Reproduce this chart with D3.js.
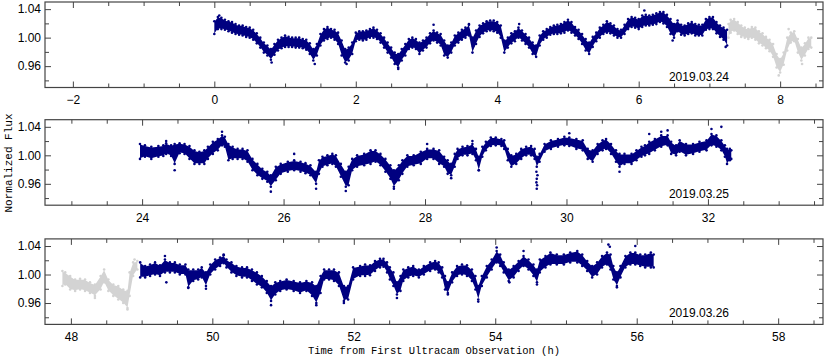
<!DOCTYPE html>
<html><head><meta charset="utf-8">
<script src="https://cdn.jsdelivr.net/npm/d3@7/dist/d3.min.js"></script>
<style>
body{margin:0;background:#fff;}
svg{display:block;}
.tick text{font-family:"Liberation Sans",Arial,sans-serif;font-size:12px;fill:#000;}
</style></head><body>
<svg id="chart" width="830" height="356"></svg>
<script>
// ---- data: [time (h), lower envelope, upper envelope] ----
const night1Obs = [
[0.00,1.005,1.023],[0.05,1.012,1.029],[0.10,1.012,1.028],[0.15,1.011,1.025],[0.20,1.009,1.023],
[0.25,1.007,1.022],[0.30,1.005,1.019],[0.35,1.004,1.017],[0.40,1.003,1.017],[0.45,1.001,1.015],
[0.50,1.000,1.014],[0.55,0.997,1.011],[0.60,0.992,1.006],[0.65,0.986,1.000],[0.70,0.979,0.993],
[0.75,0.975,0.989],[0.80,0.969,0.984],[0.85,0.976,0.991],[0.90,0.982,0.997],[0.95,0.985,1.000],
[1.00,0.987,1.003],[1.05,0.987,1.001],[1.10,0.987,1.000],[1.15,0.986,1.000],[1.20,0.986,1.000],
[1.25,0.985,0.998],[1.30,0.983,0.997],[1.35,0.977,0.992],[1.40,0.968,0.984],[1.45,0.975,0.991],
[1.50,0.989,1.005],[1.55,0.996,1.012],[1.60,0.998,1.015],[1.65,1.000,1.012],[1.70,0.997,1.011],
[1.75,0.991,1.007],[1.80,0.975,0.996],[1.85,0.965,0.984],[1.90,0.968,0.986],[1.95,0.977,0.993],
[2.00,0.995,1.007],[2.05,0.997,1.009],[2.10,0.996,1.009],[2.15,0.997,1.010],[2.20,1.000,1.012],
[2.25,1.000,1.014],[2.30,0.998,1.011],[2.35,0.993,1.006],[2.40,0.986,1.000],[2.45,0.979,0.993],
[2.50,0.972,0.986],[2.55,0.963,0.979],[2.60,0.958,0.977],[2.65,0.968,0.984],[2.70,0.975,0.991],
[2.75,0.984,0.998],[2.80,0.986,1.000],[2.85,0.984,0.998],[2.90,0.977,0.993],[2.95,0.982,0.996],
[3.00,0.986,1.000],[3.05,0.992,1.006],[3.10,0.996,1.010],[3.15,0.993,1.007],[3.20,0.989,1.005],
[3.25,0.975,0.996],[3.30,0.972,0.989],[3.35,0.979,0.993],[3.40,0.989,1.003],[3.45,0.993,1.007],
[3.50,0.997,1.011],[3.55,1.000,1.014],[3.60,1.003,1.018],[3.65,0.979,1.000],[3.70,0.991,1.010],
[3.75,1.001,1.017],[3.80,1.006,1.020],[3.85,1.009,1.023],[3.90,1.010,1.024],[3.95,1.009,1.024],
[4.00,1.007,1.022],[4.05,1.000,1.017],[4.10,0.979,0.996],[4.15,0.986,1.000],[4.20,0.992,1.006],
[4.25,0.995,1.009],[4.30,1.000,1.014],[4.35,0.996,1.010],[4.40,0.991,1.005],[4.45,0.986,1.000],
[4.50,0.977,0.993],[4.55,0.973,0.989],[4.60,0.989,1.003],[4.65,0.997,1.009],[4.70,1.000,1.012],
[4.75,1.004,1.015],[4.80,1.005,1.017],[4.85,1.005,1.018],[4.90,1.006,1.019],[4.95,1.007,1.022],
[5.00,1.010,1.025],[5.05,1.007,1.022],[5.10,1.003,1.015],[5.15,0.998,1.011],[5.20,0.991,1.005],
[5.25,0.982,0.998],[5.30,0.977,0.993],[5.35,0.987,1.001],[5.40,0.995,1.007],[5.45,1.000,1.014],
[5.50,1.005,1.018],[5.55,1.007,1.023],[5.60,1.006,1.020],[5.65,1.003,1.017],[5.70,1.000,1.012],
[5.75,1.000,1.011],[5.80,1.005,1.018],[5.85,1.012,1.026],[5.90,1.015,1.029],[5.95,1.014,1.028],
[6.00,1.012,1.026],[6.05,1.015,1.031],[6.10,1.017,1.032],[6.15,1.017,1.031],[6.20,1.018,1.032],
[6.25,1.019,1.034],[6.30,1.022,1.036],[6.35,1.020,1.036],[6.40,1.015,1.032],[6.45,1.005,1.026],
[6.50,1.000,1.019],[6.55,1.009,1.024],[6.60,1.004,1.018],[6.65,1.003,1.017],[6.70,1.005,1.020],
[6.75,1.006,1.022],[6.80,1.003,1.019],[6.85,1.003,1.018],[6.90,1.003,1.018],[6.95,1.011,1.026],
[7.00,1.012,1.029],[7.05,1.012,1.029],[7.10,1.006,1.022],[7.15,1.001,1.017],[7.20,0.997,1.014],
[7.25,0.989,1.011]
];
const night1Extra = [
[7.27,1.000,1.019],[7.30,1.007,1.025],[7.35,1.010,1.026],[7.40,1.005,1.022],[7.45,1.001,1.017],
[7.50,1.000,1.014],[7.55,0.998,1.012],[7.60,1.000,1.015],[7.65,0.997,1.014],[7.70,0.992,1.009],
[7.75,0.989,1.006],[7.80,0.985,1.001],[7.85,0.981,0.997],[7.90,0.973,0.991],[7.95,0.958,0.977],
[8.00,0.951,0.970],[8.05,0.962,0.979],[8.10,0.982,1.000],[8.15,0.993,1.007],[8.20,0.995,1.009],
[8.25,0.979,0.998],[8.30,0.968,0.986],[8.35,0.975,0.992],[8.40,0.984,1.000],[8.44,0.986,1.000]
];
const night1Stray = [[0.07,1.031],[0.81,0.965],[1.42,0.963],[1.87,0.963],[2.60,0.956],[3.10,1.018],
[3.60,1.019],[4.31,1.019],[6.08,1.038],[6.48,0.996],[7.23,0.987],[3.66,0.988],[4.53,0.980]];
const night1ExtraStray = [[7.98,0.947],[8.12,1.012],[8.31,0.963]];

const night2Obs = [
[23.97,0.995,1.016],[24.04,0.998,1.014],[24.13,0.995,1.012],[24.23,0.998,1.013],[24.30,0.999,1.014],
[24.34,1.002,1.017],[24.41,0.999,1.014],[24.46,0.988,1.016],[24.53,1.003,1.017],[24.60,1.002,1.016],
[24.67,0.995,1.013],[24.74,0.988,1.007],[24.81,0.988,1.005],[24.88,0.988,1.007],[24.93,0.995,1.012],
[25.00,1.002,1.019],[25.07,1.007,1.023],[25.13,1.014,1.028],[25.17,1.012,1.026],[25.22,0.993,1.016],
[25.28,0.995,1.012],[25.35,0.995,1.009],[25.42,0.995,1.009],[25.49,0.991,1.007],[25.56,0.979,0.995],
[25.63,0.972,0.988],[25.70,0.967,0.981],[25.77,0.963,0.977],[25.82,0.956,0.972],[25.89,0.965,0.984],
[25.96,0.974,0.988],[26.06,0.977,0.991],[26.15,0.979,0.993],[26.24,0.977,0.991],[26.31,0.975,0.989],
[26.38,0.972,0.986],[26.46,0.960,0.977],[26.50,0.974,0.993],[26.55,0.984,0.998],[26.62,0.986,1.000],
[26.69,0.988,1.002],[26.74,0.984,1.000],[26.81,0.970,0.988],[26.88,0.956,0.977],[26.92,0.958,0.984],
[26.97,0.979,0.995],[27.04,0.984,1.000],[27.14,0.986,1.002],[27.23,0.988,1.007],[27.30,0.991,1.007],
[27.37,0.986,1.002],[27.44,0.977,0.995],[27.51,0.967,0.986],[27.56,0.956,0.979],[27.63,0.965,0.986],
[27.68,0.974,0.993],[27.75,0.984,1.000],[27.84,0.986,1.000],[27.94,0.988,1.005],[28.03,0.995,1.009],
[28.12,0.995,1.009],[28.20,0.988,1.007],[28.27,0.984,0.998],[28.32,0.974,0.993],[28.37,0.972,0.988],
[28.42,0.984,1.002],[28.46,0.995,1.009],[28.53,1.000,1.012],[28.60,1.000,1.013],[28.67,1.002,1.016],
[28.72,0.993,1.009],[28.76,0.979,0.998],[28.81,0.998,1.012],[28.86,1.007,1.019],[28.93,1.013,1.025],
[29.00,1.014,1.025],[29.08,1.013,1.023],[29.12,1.009,1.021],[29.17,0.993,1.009],[29.22,0.984,1.000],
[29.29,0.988,1.002],[29.36,0.995,1.009],[29.43,1.000,1.012],[29.50,1.000,1.013],[29.55,0.995,1.009],
[29.58,0.984,0.998],[29.62,0.991,1.002],[29.69,1.005,1.016],[29.78,1.009,1.021],[29.88,1.012,1.023],
[29.97,1.014,1.026],[30.04,1.013,1.025],[30.14,1.009,1.023],[30.23,1.007,1.021],[30.30,0.995,1.009],
[30.37,0.991,1.007],[30.44,1.002,1.016],[30.51,1.007,1.021],[30.56,1.009,1.023],[30.63,1.002,1.016],
[30.70,0.991,1.007],[30.75,0.984,1.002],[30.82,0.988,1.002],[30.92,0.988,1.002],[30.99,0.993,1.007],
[31.06,0.998,1.012],[31.11,1.000,1.014],[31.17,1.002,1.019],[31.25,1.007,1.023],[31.34,1.012,1.028],
[31.43,1.014,1.028],[31.48,1.002,1.019],[31.55,1.000,1.014],[31.60,1.005,1.021],[31.69,1.000,1.016],
[31.79,1.002,1.016],[31.88,1.005,1.019],[31.98,1.007,1.021],[32.05,1.014,1.030],[32.12,1.012,1.028],
[32.19,1.007,1.021],[32.24,0.998,1.014],[32.27,0.988,1.009],[32.31,0.993,1.009],[32.33,0.995,1.007]
];
const night2Stray = [[24.34,1.020],[24.46,0.979],[25.13,1.033],[25.82,0.949],[26.46,0.953],[26.88,0.950],
[27.56,0.953],[28.03,1.016],[28.37,0.968],[28.67,1.020],[28.76,0.979],[29.58,0.953],[29.585,0.958],
[29.575,0.962],[29.58,0.967],[29.59,0.972],[29.575,0.977],[30.04,1.031],[30.75,0.977],[31.17,1.030],
[31.34,1.033],[31.43,1.035],[32.05,1.037],[32.19,1.040],[24.13,1.004],[26.15,1.002]];

const night3Extra = [
[47.88,0.984,1.005],[47.92,0.986,1.003],[47.99,0.979,0.998],[48.06,0.977,0.993],[48.13,0.979,0.994],
[48.20,0.977,0.993],[48.27,0.974,0.989],[48.34,0.970,0.986],[48.42,0.979,0.998],[48.47,0.989,1.007],
[48.53,0.977,0.993],[48.60,0.970,0.986],[48.67,0.965,0.984],[48.74,0.960,0.979],[48.80,0.953,0.977],
[48.83,0.970,1.003],[48.88,0.998,1.017],[48.94,1.007,1.019]
];
const night3Obs = [
[48.98,0.996,1.017],[49.05,0.996,1.012],[49.12,0.998,1.014],[49.19,1.000,1.017],[49.26,0.998,1.013],
[49.33,1.003,1.021],[49.40,1.003,1.017],[49.47,1.003,1.017],[49.54,1.000,1.014],[49.62,1.000,1.014],
[49.66,0.982,1.007],[49.73,0.991,1.007],[49.80,0.993,1.007],[49.85,0.996,1.010],[49.91,0.984,1.003],
[49.97,1.000,1.014],[50.04,1.007,1.021],[50.11,1.012,1.024],[50.16,1.016,1.027],[50.20,1.010,1.021],
[50.27,1.003,1.017],[50.34,0.998,1.012],[50.42,0.996,1.010],[50.49,0.996,1.010],[50.56,0.991,1.007],
[50.63,0.986,1.003],[50.70,0.982,0.998],[50.77,0.974,0.991],[50.83,0.963,0.984],[50.89,0.972,0.989],
[50.96,0.977,0.991],[51.05,0.979,0.993],[51.15,0.977,0.991],[51.24,0.974,0.989],[51.33,0.977,0.991],
[51.41,0.970,0.989],[51.47,0.960,0.984],[51.53,0.974,0.998],[51.58,0.993,1.007],[51.65,0.993,1.007],
[51.72,0.991,1.007],[51.79,0.984,1.003],[51.86,0.963,0.984],[51.92,0.965,0.984],[51.99,0.993,1.010],
[52.09,0.998,1.012],[52.16,0.998,1.014],[52.23,0.999,1.013],[52.30,1.005,1.019],[52.37,1.010,1.022],
[52.42,1.011,1.022],[52.47,1.003,1.017],[52.51,0.993,1.010],[52.56,0.984,1.003],[52.61,0.972,0.989],
[52.66,0.977,0.998],[52.70,0.991,1.007],[52.77,0.996,1.010],[52.84,0.998,1.012],[52.92,0.996,1.007],
[52.99,1.000,1.012],[53.08,1.005,1.017],[53.15,1.007,1.019],[53.20,1.003,1.017],[53.25,0.996,1.010],
[53.29,0.979,0.998],[53.33,0.974,0.989],[53.39,0.989,1.003],[53.46,0.998,1.012],[53.53,1.000,1.014],
[53.60,0.998,1.013],[53.67,0.991,1.007],[53.72,0.979,0.998],[53.76,0.965,0.984],[53.81,0.984,0.998],
[53.88,0.996,1.012],[53.95,1.007,1.021],[54.02,1.017,1.033],[54.07,1.012,1.028],[54.12,1.003,1.017],
[54.19,0.991,1.007],[54.26,0.996,1.012],[54.33,1.005,1.019],[54.40,1.012,1.026],[54.47,1.007,1.021],
[54.54,0.998,1.014],[54.59,0.989,1.007],[54.63,1.003,1.021],[54.71,1.010,1.026],[54.78,1.014,1.031],
[54.87,1.014,1.028],[54.97,1.014,1.028],[55.06,1.017,1.031],[55.16,1.017,1.033],[55.23,1.012,1.028],
[55.30,1.005,1.019],[55.37,0.996,1.012],[55.44,1.000,1.017],[55.51,1.010,1.026],[55.58,1.014,1.031],
[55.63,1.007,1.028],[55.67,0.993,1.012],[55.72,0.984,1.003],[55.77,0.996,1.012],[55.84,1.010,1.026],
[55.91,1.014,1.031],[55.98,1.014,1.031],[56.05,1.012,1.028],[56.12,1.010,1.028],[56.20,1.010,1.031],
[56.24,1.010,1.028]
];
const night3Stray = [[49.33,1.026],[49.35,0.989],[50.16,1.028],[49.66,0.981],[49.91,0.980],[50.83,0.957],
[51.47,0.957],[51.86,0.960],[52.61,0.967],[53.33,0.972],[53.76,0.962],[54.02,1.038],[54.40,1.033],
[54.59,0.986],[55.60,1.042],[55.62,1.039],[55.72,0.982],[55.98,1.040],[54.20,0.989],[55.70,0.992]];
const night3ExtraStray = [[48.80,0.951],[48.34,0.967],[48.90,1.021]];

const dateLabels = ["2019.03.24","2019.03.25","2019.03.26"];
const xDomains = [[-2.394,8.606],[22.627,33.627],[47.634,58.634]];
const yTickValues = [0.96,1.00,1.04];
const yMinorValues = [0.94,0.98,1.02];

// ---- layout ----
const svg = d3.select("#chart");
const L = 45, R = 823, H = 85.5;
const tops = [2, 119.7, 238.9];
const navy = "#000080", grey = "#d3d3d3", frame = "#444";

const panels = [
  {obs: night1Obs, extra: night1Extra, stray: night1Stray, extraStray: night1ExtraStray},
  {obs: night2Obs, extra: [], stray: night2Stray, extraStray: []},
  {obs: night3Obs, extra: night3Extra, stray: night3Stray, extraStray: night3ExtraStray}
];

panels.forEach((p, i) => {
  const top = tops[i], bot = top + H;
  const x = d3.scaleLinear().domain(xDomains[i]).range([L, R]);
  const y = d3.scaleLinear().domain([0.93, 1.05]).range([bot, top]);
  const g = svg.append("g");
  const clipId = "clip" + i;
  svg.append("clipPath").attr("id", clipId).append("rect")
     .attr("x", L).attr("y", top).attr("width", R - L).attr("height", H);
  const dg = g.append("g").attr("clip-path", `url(#${clipId})`);

  const area = d3.area().x(d => x(d[0])).y0(d => y(d[1]) - 0.6).y1(d => y(d[2]) + 0.6);
  function band(data, color) {
    if (!data.length) return;
    dg.append("path").datum(data).attr("d", area).attr("fill", color);
    dg.append("g").selectAll("circle").data(data.flatMap(d => [[d[0], d[1]], [d[0], d[2]]]))
      .join("circle").attr("cx", d => x(d[0])).attr("cy", d => y(d[1])).attr("r", 1.3).attr("fill", color);
  }
  function dots(data, color) {
    dg.append("g").selectAll("circle").data(data).join("circle")
      .attr("cx", d => x(d[0])).attr("cy", d => y(d[1])).attr("r", 1.3).attr("fill", color);
  }
  band(p.extra, grey); dots(p.extraStray, grey);
  band(p.obs, navy); dots(p.stray, navy);

  // axes
  const major = x.ticks(6);
  const [d0, d1] = xDomains[i];
  const minor = d3.range(Math.ceil(d0 * 2) / 2, d1, 0.5).filter(v => Math.abs(v / 2 - Math.round(v / 2)) > 1e-6);
  const styleAxis = sel => { sel.select(".domain").remove(); sel.selectAll("line").attr("stroke", frame); };
  g.append("g").attr("transform", `translate(0,${bot})`)
    .call(d3.axisBottom(x).tickValues(major).tickSize(-6).tickPadding(8).tickFormat(d3.format("d"))).call(styleAxis);
  g.append("g").attr("transform", `translate(0,${bot})`)
    .call(d3.axisBottom(x).tickValues(minor).tickSize(-4).tickFormat("")).call(styleAxis);
  g.append("g").attr("transform", `translate(0,${top})`)
    .call(d3.axisTop(x).tickValues(major).tickSize(-6).tickFormat("")).call(styleAxis);
  g.append("g").attr("transform", `translate(0,${top})`)
    .call(d3.axisTop(x).tickValues(minor).tickSize(-4).tickFormat("")).call(styleAxis);
  g.append("g").attr("transform", `translate(${L},0)`)
    .call(d3.axisLeft(y).tickValues(yTickValues).tickSize(-6).tickPadding(4).tickFormat(d3.format(".2f"))).call(styleAxis);
  g.append("g").attr("transform", `translate(${L},0)`)
    .call(d3.axisLeft(y).tickValues(yMinorValues).tickSize(-4).tickFormat("")).call(styleAxis);
  g.append("g").attr("transform", `translate(${R},0)`)
    .call(d3.axisRight(y).tickValues(yTickValues).tickSize(-6).tickFormat("")).call(styleAxis);
  g.append("g").attr("transform", `translate(${R},0)`)
    .call(d3.axisRight(y).tickValues(yMinorValues).tickSize(-4).tickFormat("")).call(styleAxis);

  g.append("rect").attr("x", L).attr("y", top).attr("width", R - L).attr("height", H)
    .attr("fill", "none").attr("stroke", frame).attr("stroke-width", 1.2);

  g.append("text").attr("x", 729).attr("y", bot - 7).attr("text-anchor", "end")
    .attr("font-family", "Liberation Sans, Arial, sans-serif").attr("font-size", 12).text(dateLabels[i]);
});

svg.append("text").attr("transform", "translate(11.5,163) rotate(-90)").attr("text-anchor", "middle")
  .attr("font-family", "Liberation Mono, monospace").attr("font-size", 11).text("Normalized Flux");
svg.append("text").attr("x", 434).attr("y", 354).attr("text-anchor", "middle")
  .attr("font-family", "Liberation Mono, monospace").attr("font-size", 10.5)
  .text("Time from First Ultracam Observation (h)");
</script>
</body></html>
